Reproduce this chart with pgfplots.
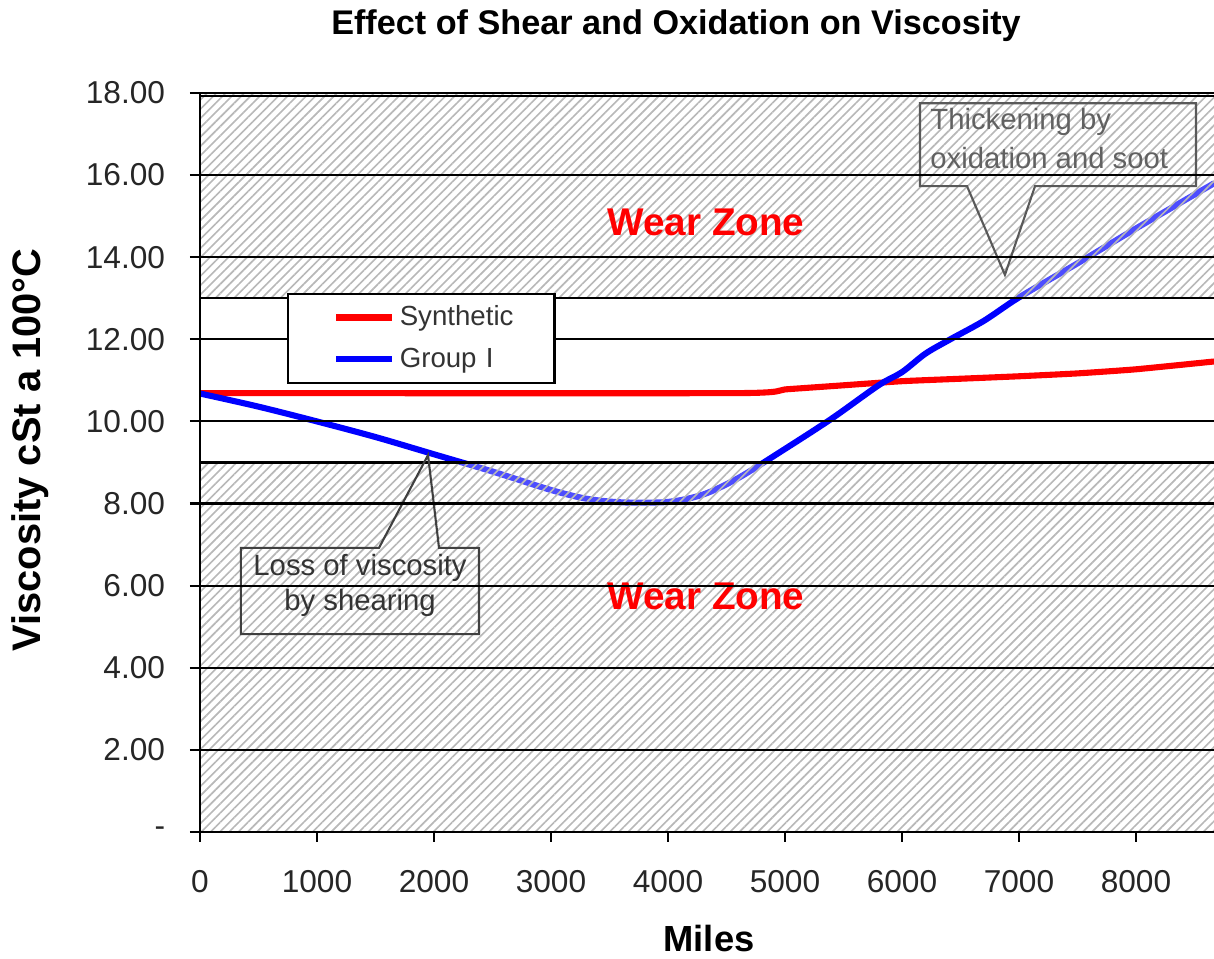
\documentclass[border=0pt]{standalone}
\usepackage{pgfplots}
\pgfplotsset{compat=1.18}
\usepackage{fontspec}
\setmainfont{Liberation Sans}
\usetikzlibrary{patterns.meta}

\pgfplotstableread{
x y
0 10.69
4600 10.69
5000 10.78
5500 10.88
6000 10.98
6500 11.04
7000 11.10
7500 11.17
8000 11.27
8667 11.46
}\synthetic

\pgfplotstableread{
x y
0 10.68
500 10.36
1000 10.00
1500 9.62
2000 9.20
2500 8.78
3000 8.33
3300 8.12
3600 8.03
4000 8.04
4300 8.22
4600 8.62
5000 9.33
5400 10.07
5800 10.88
6000 11.20
6200 11.65
6400 11.98
6700 12.45
7000 13.02
7500 13.85
8000 14.70
8667 15.80
}\groupone

\begin{document}
\begin{tikzpicture}
\useasboundingbox (-3,-1.905) rectangle (15.21,12.48);
\begin{axis}[
  at={(0,0)}, anchor=south west,
  width=15.21cm, height=11.085cm, scale only axis,
  xmin=0, xmax=8667, ymin=0, ymax=18,
  axis x line*=bottom, axis y line*=left,
  axis line style={-, line width=1.1pt},
  axis on top,
  xtick={0,1000,...,8000},
  ytick={0,2,...,18},
  yticklabels={{-\hspace{0.6cm}},2.00,4.00,6.00,8.00,10.00,12.00,14.00,16.00,18.00},
  scaled x ticks=false,
  /pgf/number format/assume math mode=true,
  xticklabel style={/pgf/number format/1000 sep={}, font=\fontsize{13.5}{16}\selectfont, text=black!85, yshift=-0.3cm},
  yticklabel style={font=\fontsize{13.5}{16}\selectfont, text=black!85, xshift=-0.25cm},
  tick align=outside, major tick length=0.15cm,
  tick style={black, line width=0.9pt},
  ymajorgrids, grid style={black, line width=0.9pt},
  title={Effect of Shear and Oxidation on Viscosity},
  title style={font=\fontsize{14.6}{17}\selectfont\bfseries, at={(axis description cs:0.4694,1)}, anchor=center, yshift=0.8cm},
  xlabel={Miles},
  xlabel style={font=\fontsize{15.5}{18}\selectfont\bfseries, at={(axis description cs:0.502,0)}, anchor=center, yshift=-1.6cm},
  ylabel={Viscosity cSt a 100°C},
  ylabel style={font=\fontsize{17}{20}\selectfont\bfseries, at={(axis description cs:-0.1677,0.517)}, anchor=center},
  legend style={at={(0.0858,0.7294)}, anchor=north west, draw=black, line width=0.9pt, fill=white,
    font=\fontsize{11.8}{14}\selectfont, text=black!80, inner xsep=0pt, inner ysep=3pt, row sep=4pt,
    nodes={inner xsep=2pt, text width=2.25cm, align=left}},
  legend cell align=left,
  legend image code/.code={\path[draw=none] (0cm,0cm) -- (0.7cm,0cm); \draw[#1, line width=2.6pt] (0.72cm,0cm) -- (1.56cm,0cm);},
  clip=true,
]
\addplot[red, line width=2.6pt, smooth, tension=0.3] table {\synthetic};
\addlegendentry{Synthetic}
\addplot[blue, line width=2.6pt, smooth, tension=0.5] table {\groupone};
\addlegendentry{Group I}

% wear zones
\fill[white, opacity=0.3] (axis cs:0,0) rectangle (axis cs:8667,9);
\fill[white, opacity=0.3] (axis cs:0,13) rectangle (axis cs:8667,18);
\fill[pattern={Lines[angle=45,distance=2.8pt,line width=0.7pt]}, pattern color=black!28] (axis cs:0,0) rectangle (axis cs:8667,9);
\fill[pattern={Lines[angle=45,distance=2.8pt,line width=0.7pt]}, pattern color=black!28] (axis cs:0,13) rectangle (axis cs:8667,18);
\draw[black, line width=0.9pt] (axis cs:0,9) -- (axis cs:8667,9);
\draw[black, line width=0.9pt] (axis cs:0,13) -- (axis cs:8667,13);
\draw[black, line width=0.9pt] (axis cs:0,17.93) -- (axis cs:8667,17.93);

% callouts
\draw[black!65, line width=0.9pt] (axis cs:6154,15.73) -- (axis cs:6556,15.73) -- (axis cs:6880,13.57) -- (axis cs:7137,15.73) -- (axis cs:8513,15.73) -- (axis cs:8513,17.75) -- (axis cs:6154,17.75) -- cycle;
\node[anchor=west, font=\fontsize{12.5}{15}\selectfont, text=black!62, inner sep=0pt] at (axis cs:6239,17.29) {Thickening by};
\node[anchor=west, font=\fontsize{12.5}{15}\selectfont, text=black!62, inner sep=0pt] at (axis cs:6239,16.41) {oxidation and soot};
\draw[black!75, line width=0.9pt] (axis cs:350,6.92) -- (axis cs:1530,6.92) -- (axis cs:1949,9.18) -- (axis cs:2043,6.92) -- (axis cs:2385,6.92) -- (axis cs:2385,4.82) -- (axis cs:350,4.82) -- cycle;
\node[font=\fontsize{12.5}{15}\selectfont, text=black!80, inner sep=0pt] at (axis cs:1368,6.43) {Loss of viscosity};
\node[font=\fontsize{12.5}{15}\selectfont, text=black!80, inner sep=0pt] at (axis cs:1368,5.58) {by shearing};

\node[text=red, font=\fontsize{16.5}{19}\selectfont\bfseries] at (axis cs:4325,14.86) {Wear Zone};
\node[text=red, font=\fontsize{16.5}{19}\selectfont\bfseries] at (axis cs:4325,5.75) {Wear Zone};
\end{axis}
\end{tikzpicture}
\end{document}
